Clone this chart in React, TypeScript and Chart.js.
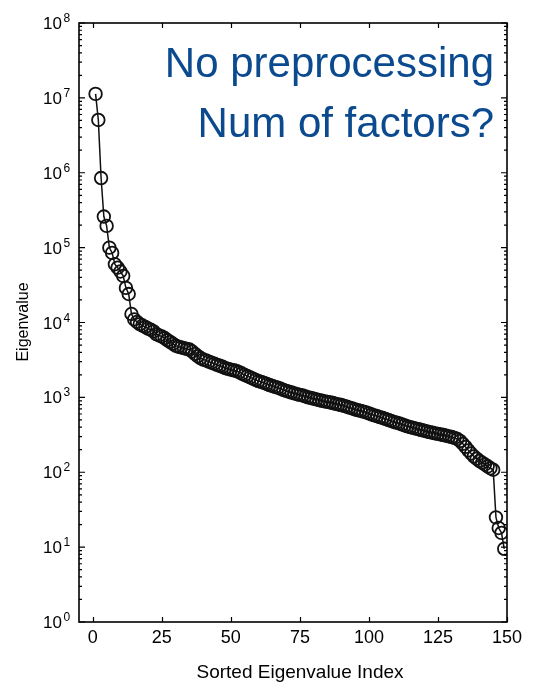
import React, { useEffect, useRef } from "react";
import { Chart, registerables } from "chart.js";

Chart.register(...registerables);

// Sorted eigenvalues, index 1..149
const eigenvalues: number[] = [
  11300000, 5070000, 850000, 260000, 195000, 100000, 85000, 60000, 54000, 48000,
  42000, 29000, 24000, 13000, 11000, 10200, 9500, 9100, 8700, 8300,
  8000, 7600, 7000, 6700, 6500, 6200, 5800, 5500, 5200, 4900,
  4750, 4650, 4550, 4450, 4350, 4100, 3800, 3550, 3350, 3200,
  3120, 3000, 2900, 2820, 2720, 2640, 2560, 2460, 2400, 2350,
  2300, 2250, 2170, 2080, 2000, 1920, 1850, 1780, 1710, 1650,
  1610, 1560, 1510, 1460, 1420, 1380, 1350, 1310, 1260, 1220,
  1190, 1160, 1130, 1100, 1080, 1060, 1030, 1000, 980, 960,
  940, 920, 900, 885, 870, 855, 840, 820, 805, 790,
  770, 750, 730, 710, 690, 675, 660, 645, 630, 610,
  590, 575, 560, 545, 530, 515, 500, 485, 470, 460,
  448, 435, 422, 410, 400, 392, 383, 375, 366, 358,
  350, 343, 337, 331, 325, 320, 314, 307, 301, 295,
  288, 278, 262, 240, 218, 196, 178, 163, 152, 142,
  134, 127, 120, 113, 108, 25, 18, 15.5, 9.5,
];

const xTicks: number[] = [0, 25, 50, 75, 100, 125, 150];
const yExponents: number[] = [0, 1, 2, 3, 4, 5, 6, 7, 8];
const annotationLines: string[] = ["No preprocessing", "Num of factors?"];
const xTitle = "Sorted Eigenvalue Index";
const yTitle = "Eigenvalue";

const FONT = "'Liberation Sans', Arial, Helvetica, sans-serif";

export default function App() {
  const ref = useRef<HTMLCanvasElement>(null);

  useEffect(() => {
    const canvas = ref.current;
    if (!canvas) return;
    const points = eigenvalues.map((v, i) => ({ x: i + 1, y: v }));

    const framePlugin = {
      id: "frame",
      afterDraw(chart: any) {
        const { ctx, chartArea: a, scales } = chart;
        const xs = scales.x;
        const ys = scales.y;
        ctx.save();
        ctx.strokeStyle = "#000";
        ctx.lineWidth = 1.6;
        ctx.strokeRect(a.left, a.top, a.right - a.left, a.bottom - a.top);

        ctx.lineWidth = 1.2;
        ctx.beginPath();
        for (const t of xTicks) {
          const px = Math.round(xs.getPixelForValue(t)) + 0.5;
          ctx.moveTo(px, a.bottom);
          ctx.lineTo(px, a.bottom - 5);
          ctx.moveTo(px, a.top);
          ctx.lineTo(px, a.top + 5);
        }
        for (const e of yExponents) {
          const py = ys.getPixelForValue(Math.pow(10, e));
          ctx.moveTo(a.left, py);
          ctx.lineTo(a.left + 6, py);
          ctx.moveTo(a.right, py);
          ctx.lineTo(a.right - 6, py);
          if (e < 8) {
            for (let m = 2; m <= 9; m++) {
              const pm = ys.getPixelForValue(m * Math.pow(10, e));
              ctx.moveTo(a.left, pm);
              ctx.lineTo(a.left + 3, pm);
              ctx.moveTo(a.right, pm);
              ctx.lineTo(a.right - 3, pm);
            }
          }
        }
        ctx.stroke();

        // y tick labels 10^n
        ctx.fillStyle = "#000";
        for (const e of yExponents) {
          const py = ys.getPixelForValue(Math.pow(10, e));
          ctx.font = `17px ${FONT}`;
          ctx.textAlign = "right";
          ctx.textBaseline = "alphabetic";
          ctx.fillText("10", 62, py + 6);
          ctx.font = `12px ${FONT}`;
          ctx.textAlign = "left";
          ctx.fillText(String(e), 63.5, py - 1);
        }

        // axis titles
        ctx.font = `19px ${FONT}`;
        ctx.textAlign = "center";
        ctx.textBaseline = "alphabetic";
        ctx.fillText(xTitle, 300, 678);
        ctx.save();
        ctx.translate(28, 322);
        ctx.rotate(-Math.PI / 2);
        ctx.font = `16px ${FONT}`;
        ctx.fillText(yTitle, 0, 0);
        ctx.restore();

        // annotation
        ctx.fillStyle = "#0b4a8f";
        ctx.font = `42px ${FONT}`;
        ctx.textAlign = "right";
        ctx.fillText(annotationLines[0], 494, 77);
        ctx.fillText(annotationLines[1], 494, 137);
        ctx.restore();
      },
    };

    const chart = new Chart(canvas, {
      type: "line",
      data: {
        datasets: [
          {
            data: points,
            borderColor: "#111",
            borderWidth: 1.5,
            backgroundColor: "rgba(0,0,0,0)",
            pointStyle: "circle",
            pointRadius: 6.3,
            pointBorderWidth: 1.8,
            pointBorderColor: "#111",
            pointBackgroundColor: "rgba(0,0,0,0)",
            tension: 0,
            fill: false,
          },
        ],
      },
      options: {
        responsive: false,
        animation: false,
        devicePixelRatio: 1,
        layout: { padding: { top: 23, right: 35, left: 0, bottom: 0 } },
        plugins: {
          legend: { display: false },
          tooltip: { enabled: false },
          title: { display: false },
        },
        scales: {
          x: {
            type: "linear",
            min: -5,
            max: 150,
            afterBuildTicks: (s: any) => {
              s.ticks = xTicks.map((v) => ({ value: v }));
            },
            afterFit: (s: any) => {
              s.height = 60;
            },
            grid: { display: false, drawTicks: false },
            border: { display: false },
            ticks: {
              color: "#000",
              font: { family: FONT, size: 18 },
              padding: 5,
              maxRotation: 0,
              autoSkip: false,
            },
          },
          y: {
            type: "logarithmic",
            min: 1,
            max: 100000000,
            afterFit: (s: any) => {
              s.width = 79;
            },
            grid: { display: false, drawTicks: false },
            border: { display: false },
            ticks: { display: false },
          },
        },
      },
      plugins: [framePlugin],
    } as any);

    return () => chart.destroy();
  }, []);

  return (
    <div style={{ position: "fixed", left: 0, top: 0, width: 542, height: 682, background: "#fff" }}>
      <canvas ref={ref} width={542} height={682} />
    </div>
  );
}
